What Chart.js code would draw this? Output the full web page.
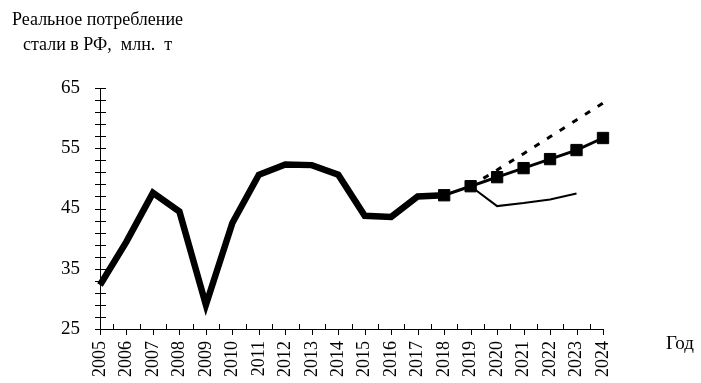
<!DOCTYPE html>
<html>
<head>
<meta charset="utf-8">
<script src="https://cdn.jsdelivr.net/npm/chart.js@4"></script>
<style>
  html, body { margin: 0; padding: 0; background: #fff; }
  #wrap { width: 701px; height: 383px; position: relative; }
</style>
</head>
<body>
<div id="wrap"><canvas id="myChart"></canvas></div>
<script>
// данные графика
const years = ['2005','2006','2007','2008','2009','2010','2011','2012','2013','2014',
               '2015','2016','2017','2018','2019','2020','2021','2022','2023','2024'];
// фактическое потребление
const actual = [32.3, 39.5, 47.6, 44.5, 29.0, 42.6, 50.6, 52.3, 52.2, 50.6,
                43.8, 43.6, 47.0, 47.2, null, null, null, null, null, null];
// базовый сценарий (с маркерами)
const baseCase = [null, null, null, null, null, null, null, null, null, null,
                  null, null, null, 47.2, 48.7, 50.2, 51.7, 53.2, 54.7, 56.7];
// оптимистичный (пунктир)
const optimistic = [null, null, null, null, null, null, null, null, null, null,
                    null, null, null, null, 48.7, 51.4, 54.1, 56.9, 59.7, 62.5];
// пессимистичный (тонкая линия)
const pessimistic = [null, null, null, null, null, null, null, null, null, null,
                     null, null, null, null, 48.7, 45.4, 45.9, 46.5, 47.5, null];
const yTicks = [25, 35, 45, 55, 65];

const serif = "'Liberation Serif', 'Times New Roman', serif";
const ctx = document.getElementById('myChart').getContext('2d');

// оси с засечками в обе стороны + подписи
const axesPlugin = {
  id: 'axesPlugin',
  afterDatasetsDraw(chart) {
    const c = chart.ctx;
    const xs = chart.scales.x, ys = chart.scales.y;
    const x0 = xs.left, x1 = xs.right, yb = ys.bottom, yt = ys.top;
    c.save();
    c.strokeStyle = '#000';
    c.lineWidth = 1;
    c.beginPath();
    c.moveTo(x0 + 0.5, yt);
    c.lineTo(x0 + 0.5, yb + 0.5);
    c.lineTo(x1, yb + 0.5);
    // засечки по оси Y каждые 2
    for (let v = ys.min; v <= ys.max; v += 2) {
      const p = Math.round(ys.getPixelForValue(v)) + 0.5;
      c.moveTo(x0 - 5, p);
      c.lineTo(x0 + 6, p);
    }
    // засечки по оси X
    for (let i = 0; i < years.length; i++) {
      const p = Math.round(xs.getPixelForValue(i)) + 0.5;
      c.moveTo(p, yb);
      c.lineTo(p, yb + 6);
      if (i < years.length - 1) {
        const h = Math.round((xs.getPixelForValue(i) + xs.getPixelForValue(i + 1)) / 2) + 0.5;
        c.moveTo(h, yb - 5);
        c.lineTo(h, yb + 1);
      }
    }
    c.stroke();
    c.fillStyle = '#000';
    c.font = '18px ' + serif;
    c.textAlign = 'left';
    c.textBaseline = 'alphabetic';
    c.fillText('Реальное потребление', 12, 25);
    c.fillText('стали в РФ,  млн.  т', 23, 50);
    c.font = '19px ' + serif;
    c.fillText('Год', 666, 349);
    c.restore();
  }
};

const myChart = new Chart(ctx, {
  type: 'line',
  data: {
    labels: years,
    datasets: [
      {
        data: baseCase,
        borderColor: '#000',
        backgroundColor: '#000',
        borderWidth: 3,
        pointStyle: 'rect',
        pointRadius: 8,
        pointBorderWidth: 1,
        pointBackgroundColor: '#000',
        pointBorderColor: '#000',
        tension: 0
      },
      {
        data: actual,
        borderColor: '#000',
        borderWidth: 6.5,
        borderJoinStyle: 'miter',
        pointRadius: 0,
        tension: 0
      },
      {
        data: optimistic,
        borderColor: '#000',
        borderWidth: 3,
        borderDash: [6, 9],
        pointRadius: 0,
        tension: 0
      },
      {
        data: pessimistic,
        borderColor: '#000',
        borderWidth: 2,
        pointRadius: 0,
        tension: 0
      }
    ]
  },
  options: {
    responsive: true,
    maintainAspectRatio: false,
    animation: false,
    layout: { padding: { top: 88, right: 98, bottom: 0, left: 0 } },
    plugins: {
      legend: { display: false },
      tooltip: { enabled: false },
      title: { display: false }
    },
    scales: {
      x: {
        type: 'category',
        offset: false,
        grid: { display: false },
        border: { display: false },
        ticks: {
          color: '#000',
          font: { family: serif, size: 18 },
          minRotation: 90,
          maxRotation: 90,
          autoSkip: false,
          padding: 4
        },
        afterFit(scale) { scale.height = 54; }
      },
      y: {
        min: 25,
        max: 65,
        grid: { display: false },
        border: { display: false },
        afterBuildTicks(scale) {
          scale.ticks = yTicks.map(v => ({ value: v }));
        },
        ticks: {
          color: '#000',
          font: { family: serif, size: 19 },
          padding: 12
        },
        afterFit(scale) { scale.width = 100; }
      }
    }
  },
  plugins: [axesPlugin]
});
</script>
</body>
</html>
